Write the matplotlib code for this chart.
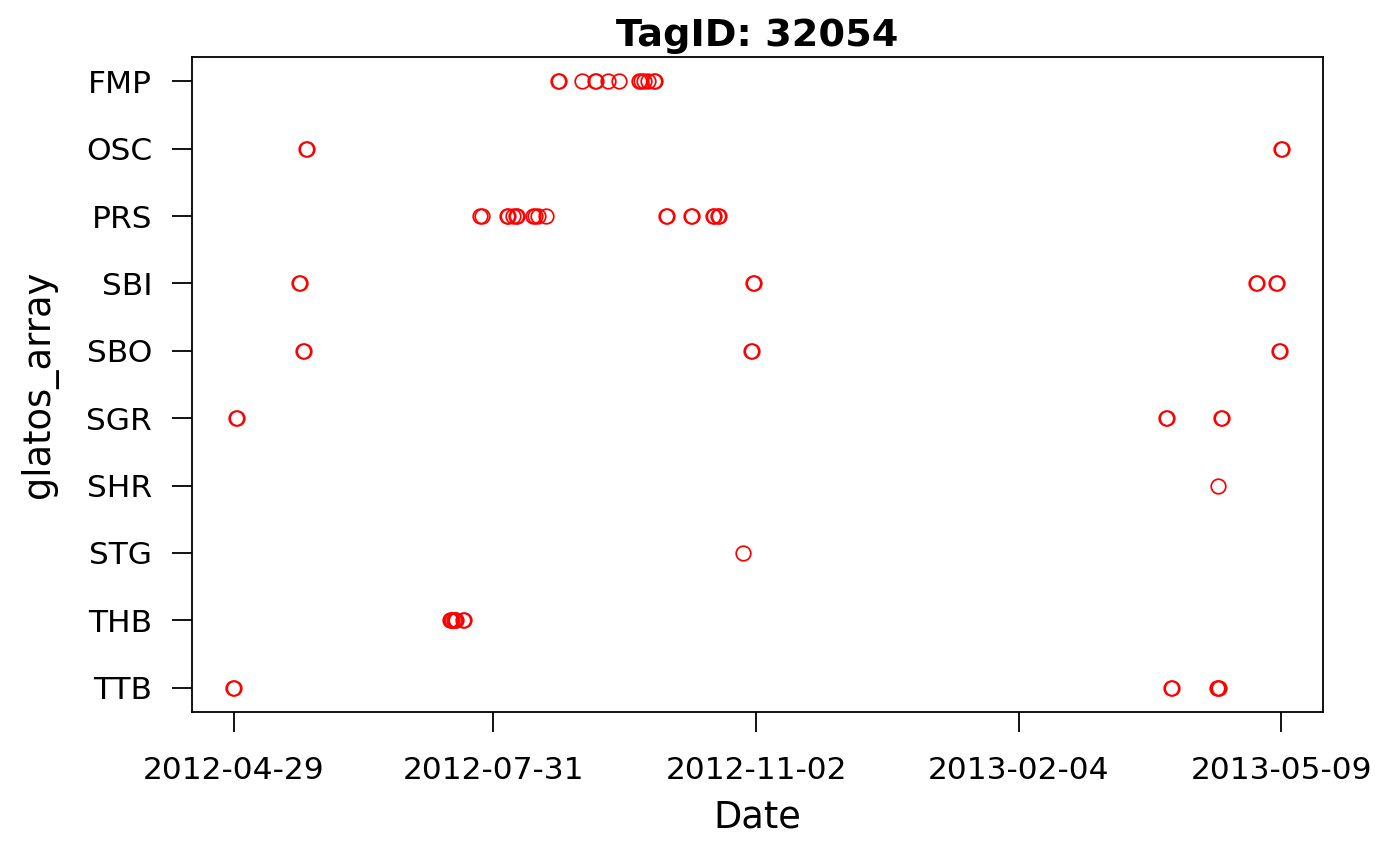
import pandas as pd
import numpy as np
import matplotlib.pyplot as plt
import matplotlib.dates as mdates

# detection times per receiver group
fmp = ["2012-08-23 00:00", "2012-08-23 10:00", "2012-08-31 14:00", "2012-09-05 08:00", "2012-09-05 18:00",
       "2012-09-09 20:00", "2012-09-14 00:00", "2012-09-21 06:00", "2012-09-21 16:00",
       "2012-09-22 20:00", "2012-09-24 05:00", "2012-09-26 08:00", "2012-09-26 18:00"]
osc = ["2012-05-24 22:00", "2012-05-25 06:00", "2013-05-08 20:00", "2013-05-09 04:00"]
prs = ["2012-07-26 08:00", "2012-07-26 18:00", "2012-08-04 18:00", "2012-08-05 03:00",
       "2012-08-06 22:00", "2012-08-08 00:00", "2012-08-08 10:00", "2012-08-14 08:00",
       "2012-08-14 18:00", "2012-08-16 00:00", "2012-08-18 22:00",
       "2012-09-30 18:00", "2012-10-01 03:00", "2012-10-09 18:00", "2012-10-10 03:00",
       "2012-10-17 15:00", "2012-10-18 00:00", "2012-10-19 07:00", "2012-10-19 17:00"]
sbi = ["2012-05-22 10:00", "2012-05-22 19:00", "2012-11-01 01:00", "2012-11-01 10:00",
       "2013-04-29 20:00", "2013-04-30 05:00", "2013-05-07 01:00", "2013-05-07 10:00"]
sbo = ["2012-05-23 22:00", "2012-05-24 07:00", "2012-10-31 08:00", "2012-10-31 17:00",
       "2013-05-08 03:00", "2013-05-08 12:00"]
sgr = ["2012-04-29 22:00", "2012-04-30 07:00", "2013-03-28 15:00", "2013-03-29 00:00",
       "2013-04-17 08:00", "2013-04-17 17:00"]
shr = ["2013-04-16 10:00"]
stg = ["2012-10-28 10:00"]
thb = ["2012-07-15 14:00", "2012-07-15 23:00", "2012-07-16 08:00", "2012-07-16 18:00",
       "2012-07-17 02:00", "2012-07-17 11:00", "2012-07-20 06:00", "2012-07-20 15:00"]
ttb = ["2012-04-28 20:00", "2012-04-29 05:00", "2013-03-30 10:00", "2013-03-30 19:00",
       "2013-04-15 22:00", "2013-04-16 07:00", "2013-04-16 18:00"]

arrays = ["TTB", "THB", "STG", "SHR", "SGR", "SBO", "SBI", "PRS", "OSC", "FMP"]
detections = {"FMP": fmp, "OSC": osc, "PRS": prs, "SBI": sbi, "SBO": sbo,
              "SGR": sgr, "SHR": shr, "STG": stg, "THB": thb, "TTB": ttb}
xticks = ["2012-04-29", "2012-07-31", "2012-11-02", "2013-02-04", "2013-05-09"]

fig = plt.figure(figsize=(14, 8.66), dpi=100)
ax = fig.add_axes([0.137, 0.178, 0.808, 0.756])

for i, name in enumerate(arrays):
    d = pd.to_datetime(detections[name])
    ax.plot(d, np.full(len(d), i), linestyle="none", marker="o", markersize=10.5,
            markerfacecolor="none", markeredgecolor="red", markeredgewidth=1.25)

start = pd.Timestamp("2012-04-29")
end = pd.Timestamp("2013-05-09")
pad = (end - start) * 0.04
ax.set_xlim(start - pad, end + pad)
ax.set_ylim(-0.36, len(arrays) - 1 + 0.36)

ax.set_yticks(range(len(arrays)))
ax.set_yticklabels(arrays)
ax.set_xticks(pd.to_datetime(xticks))
ax.xaxis.set_major_formatter(mdates.DateFormatter("%Y-%m-%d"))

ax.tick_params(axis="both", length=14.5, width=1.3, labelsize=22.5, direction="out", color="black")
ax.tick_params(axis="x", pad=17)
ax.tick_params(axis="y", pad=14)
for s in ax.spines.values():
    s.set_linewidth(1.3)
    s.set_color("black")

ax.set_xlabel("Date", fontsize=26.5, labelpad=10)
ax.set_ylabel("glatos_array", fontsize=26.5, labelpad=20)
ax.set_title("TagID: 32054", fontsize=27.5, fontweight="bold", pad=8)

fig.savefig("out.png", dpi=100)
